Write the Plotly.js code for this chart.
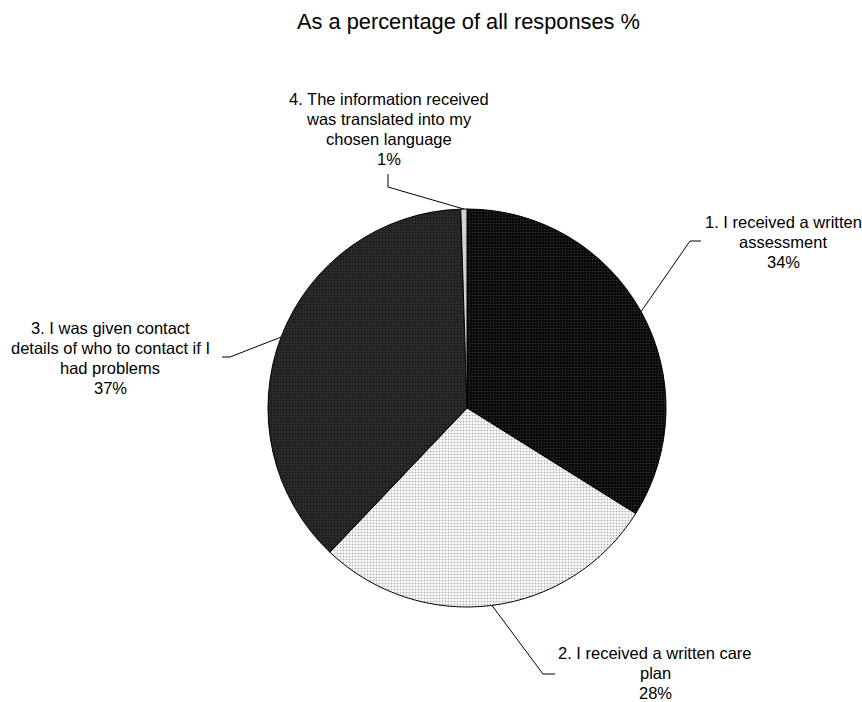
<!DOCTYPE html>
<html>
<head>
<meta charset="utf-8">
<script src="https://cdn.plot.ly/plotly-3.0.1.min.js"></script>
<style>html,body{margin:0;padding:0;background:#fff;}#chart{width:862px;height:702px;}</style>
</head>
<body>
<div id="chart"></div>
<script>
// ---- data ----
const categories = [
  '1. I received a written assessment',
  '2. I received a written care plan',
  '3. I was given contact details of who to contact if I had problems',
  '4. The information received was translated into my chosen language'
];
const values = [33.9, 28.2, 37.4, 0.5];
const labelLines = [
  ['1. I received a written', 'assessment'],
  ['2. I received a written care', 'plan'],
  ['3. I was given contact', 'details of who to contact if I', 'had problems'],
  ['4. The information received', 'was translated into my', 'chosen language']
];
const titleText = 'As a percentage of all responses %';

// ---- styling / layout ----
const W = 862, H = 702;
const cx = 467, cy = 408, R = 199;
const fillColors = ['#050505', '#ffffff', '#2c2c2c', '#d2d2d2'];
const dotColors  = ['#2a2a2a', '#b4b4b4', '#171717', '#d2d2d2'];
const shapesPat  = ['.', '.', '.', ''];
const font = 'Liberation Sans, Arial, sans-serif';

// label block placement (pixels): center x, first line middle y
const labelPos = [[783, 222], [655, 653], [110, 328], [388.5, 99]];
// leader elbow points (pixels)
const elbows = [
  [[690, 241], [701, 241]],
  [[543, 674], [555, 674]],
  [[230, 357], [222, 357]],
  [[388, 187], [388, 174]]
];
const lineGap = 20;

const px = x => x / W;
const py = y => 1 - y / H;

const total = values.reduce((a, b) => a + b, 0);
const annotations = [];
const shapes = [];
let cum = 0;
values.forEach((v, i) => {
  const mid = (cum + v / 2) / total * 2 * Math.PI;
  cum += v;
  const ex = cx + R * Math.sin(mid), ey = cy - R * Math.cos(mid);
  const pts = [[ex, ey]].concat(elbows[i]);
  const path = 'M ' + pts.map(p => px(p[0]) + ',' + py(p[1])).join(' L ');
  shapes.push({type: 'path', xref: 'paper', yref: 'paper', path: path,
               line: {color: '#000', width: 1}});
  const lines = labelLines[i].concat([Math.round(v / total * 100) + '%']);
  lines.forEach((t, k) => {
    annotations.push({
      text: t, xref: 'paper', yref: 'paper', showarrow: false,
      x: px(labelPos[i][0]), y: py(labelPos[i][1] + k * lineGap),
      xanchor: 'center', yanchor: 'middle',
      font: {family: font, size: 16.5, color: '#000'}
    });
  });
});

const trace = {
  type: 'pie',
  labels: categories,
  values: values,
  sort: false,
  direction: 'clockwise',
  rotation: 0,
  textinfo: 'none',
  hoverinfo: 'label+percent',
  showlegend: false,
  domain: {x: [px(cx - R), px(cx + R)], y: [py(cy + R), py(cy - R)]},
  marker: {
    colors: fillColors,
    line: {color: '#000', width: 1},
    pattern: {shape: shapesPat, fgcolor: dotColors, bgcolor: fillColors, size: 3, solidity: 0.35}
  }
};

const layout = {
  width: W, height: H,
  margin: {l: 0, r: 0, t: 0, b: 0},
  paper_bgcolor: '#fff',
  title: {text: titleText, x: 468.5 / W, xanchor: 'center', xref: 'paper',
          y: 1 - 21 / H, yref: 'container', yanchor: 'middle',
          font: {family: font, size: 21.8, color: '#000'}},
  annotations: annotations,
  shapes: shapes
};

Plotly.newPlot('chart', [trace], layout, {displayModeBar: false, staticPlot: true});
</script>
</body>
</html>
